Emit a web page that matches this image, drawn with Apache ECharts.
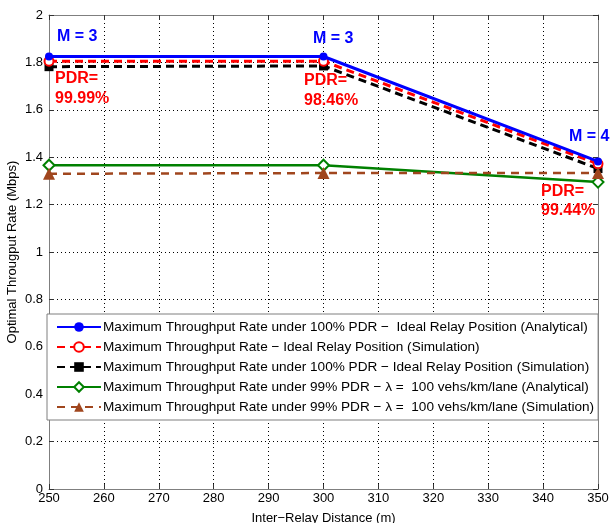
<!DOCTYPE html>
<html>
<head>
<meta charset="utf-8">
<script src="https://cdn.jsdelivr.net/npm/echarts@6/dist/echarts.min.js"></script>
<style>
  html, body { margin: 0; padding: 0; background: #fff; }
  #chart { width: 610px; height: 523px; }
</style>
</head>
<body>
<div id="chart"></div>
<script>
const distances = [250, 300, 350]
const analytical100 = [1.825, 1.825, 1.382]
const simIdeal = [1.805, 1.805, 1.372]
const sim100 = [1.782, 1.785, 1.352]
const analytical99 = [1.366, 1.366, 1.295]
const sim99 = [1.33, 1.333, 1.333]

const seriesNames = [
  'Maximum Throughput Rate under 100% PDR \u2212  Ideal Relay Position (Analytical)',
  'Maximum Throughput Rate \u2212 Ideal Relay Position (Simulation)',
  'Maximum Throughput Rate under 100% PDR \u2212 Ideal Relay Position (Simulation)',
  'Maximum Throughput Rate under 99% PDR \u2212 \u03bb =  100 vehs/km/lane (Analytical)',
  'Maximum Throughput Rate under 99% PDR \u2212 \u03bb =  100 vehs/km/lane (Simulation)',
]

const font = 'Arial, "Liberation Sans", sans-serif'
const toPairs = (ys) => distances.map((x, i) => [x, ys[i]])

const chart = echarts.init(document.getElementById('chart'))

const label = (text, x, y, color) => ({
  type: 'text',
  left: x,
  top: y - 9,
  style: { text, fill: color, font: 'bold 16px ' + font },
  z: 100,
})

const axisBase = {
  axisLine: { show: true, onZero: false, lineStyle: { color: '#7f7f7f', width: 1 } },
  axisTick: { show: true, inside: true, length: 5, lineStyle: { color: '#333' } },
}

chart.setOption({
  animation: false,
  textStyle: { fontFamily: font },
  grid: { left: 49, right: 12, top: 15, bottom: 34, outerBoundsMode: 'none', containLabel: false },
  legend: {
    orient: 'vertical',
    left: 47,
    top: 314,
    padding: [6, 4, 6, 9],
    itemWidth: 44,
    itemHeight: 12,
    itemGap: 6,
    backgroundColor: '#fff',
    borderColor: '#7f7f7f',
    borderWidth: 1,
    textStyle: { fontSize: 13.6, color: '#000', fontFamily: font, padding: [0, 0, 0, -3] },
    data: seriesNames,
    z: 50,
  },
  xAxis: [
    {
      ...axisBase,
      type: 'value',
      min: 250,
      max: 350,
      interval: 10,
      name: 'Inter\u2212Relay Distance (m)',
      nameLocation: 'middle',
      nameGap: 23,
      nameMoveOverlap: false,
      nameTextStyle: { fontSize: 13, color: '#000' },
      axisLabel: { fontSize: 13, color: '#000', margin: 3 },
      splitLine: { show: true, lineStyle: { color: '#000', type: [1, 3], width: 1 } },
    },
    {
      ...axisBase,
      type: 'value',
      position: 'top',
      min: 250,
      max: 350,
      interval: 10,
      axisLabel: { show: false },
      splitLine: { show: false },
    },
  ],
  yAxis: [
    {
      ...axisBase,
      type: 'value',
      min: 0,
      max: 2,
      interval: 0.2,
      name: 'Optimal Througput Rate (Mbps)',
      nameLocation: 'middle',
      nameGap: 30,
      nameMoveOverlap: false,
      nameTextStyle: { fontSize: 13, color: '#000' },
      axisLabel: { fontSize: 13, color: '#000', margin: 6 },
      splitLine: { show: true, lineStyle: { color: '#000', type: [1, 3], width: 1 } },
    },
    {
      ...axisBase,
      type: 'value',
      position: 'right',
      min: 0,
      max: 2,
      interval: 0.2,
      axisLabel: { show: false },
      splitLine: { show: false },
    },
  ],
  series: [
    {
      name: seriesNames[0],
      type: 'line',
      data: toPairs(analytical100),
      symbol: 'circle',
      symbolSize: 8,
      itemStyle: { color: '#0000ff' },
      lineStyle: { color: '#0000ff', width: 3 },
      z: 5,
    },
    {
      name: seriesNames[1],
      type: 'line',
      data: toPairs(simIdeal),
      symbol: 'emptyCircle',
      symbolSize: 9,
      itemStyle: { color: '#ff0000', borderColor: '#ff0000', borderWidth: 2.5 },
      lineStyle: { color: '#ff0000', width: 3, type: [8, 5] },
      z: 4,
    },
    {
      name: seriesNames[2],
      type: 'line',
      data: toPairs(sim100),
      symbol: 'rect',
      symbolSize: 9,
      itemStyle: { color: '#000' },
      lineStyle: { color: '#000', width: 3, type: [8, 5] },
      z: 3,
    },
    {
      name: seriesNames[3],
      type: 'line',
      data: toPairs(analytical99),
      symbol: 'emptyDiamond',
      symbolSize: 11,
      itemStyle: { color: '#008000', borderColor: '#008000', borderWidth: 2 },
      lineStyle: { color: '#008000', width: 2.5 },
      z: 2,
    },
    {
      name: seriesNames[4],
      type: 'line',
      data: toPairs(sim99),
      symbol: 'triangle',
      symbolSize: 12,
      itemStyle: { color: '#a0461e' },
      lineStyle: { color: '#a0461e', width: 2.5, type: [8, 6] },
      z: 6,
    },
  ],
  graphic: [
    label('M = 3', 57, 38, '#0000ff'),
    label('M = 3', 313, 40, '#0000ff'),
    label('M = 4', 569, 138, '#0000ff'),
    label('PDR=', 55, 80, '#ff0000'),
    label('99.99%', 55, 100, '#ff0000'),
    label('PDR=', 304, 82, '#ff0000'),
    label('98.46%', 304, 102, '#ff0000'),
    label('PDR=', 541, 193, '#ff0000'),
    label('99.44%', 541, 212, '#ff0000'),
  ],
})
</script>
</body>
</html>
